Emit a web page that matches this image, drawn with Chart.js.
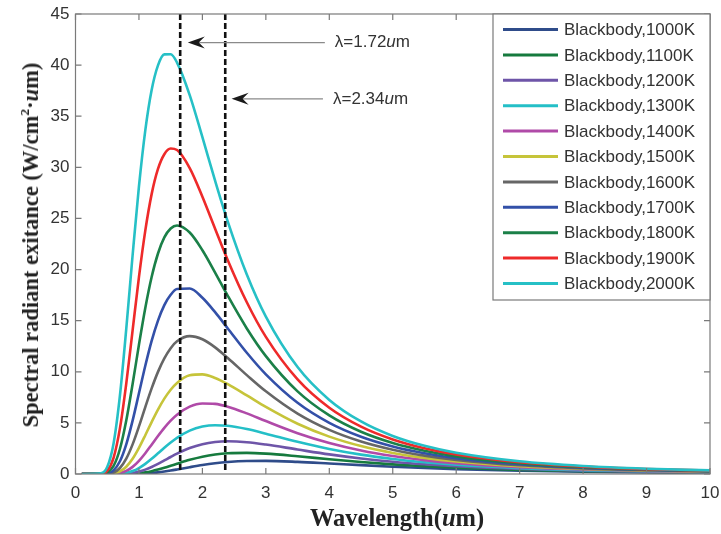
<!DOCTYPE html>
<html>
<head>
<meta charset="utf-8">
<script src="https://cdn.jsdelivr.net/npm/chart.js@4.4.0/dist/chart.umd.min.js"></script>
<style>
  html, body { margin: 0; padding: 0; background: #fff; }
  #wrap { position: relative; width: 721px; height: 534px; }
  #chart { position: absolute; left: 0; top: 0; }
  .axis-title {
    position: absolute;
    font-family: "Liberation Serif", "Times New Roman", serif;
    font-weight: bold;
    color: #222;
    white-space: nowrap;
    transform: translate(-50%, -50%);
  }
  #ytitle { transform: translate(-50%, -50%) rotate(-90deg); }
  .axis-title sup { font-size: 0.6em; vertical-align: 0.7em; line-height: 0; }
</style>
</head>
<body>
<div id="wrap">
  <canvas id="chart" width="721" height="534"></canvas>
  <div id="xtitle" class="axis-title" style="left:397px; top:518px; font-size:24.5px;">Wavelength(<i>u</i>m)</div>
  <div id="ytitle" class="axis-title" style="left:31px; top:245px; font-size:22.5px;">Spectral radiant exitance (W/cm<sup>2</sup>&middot;<i>u</i>m)</div>
</div>
<script>
// wavelength samples (um)
const wavelengths = [0.1, 0.4, 0.5, 0.6, 0.7, 0.8, 0.9, 1.0, 1.1, 1.2, 1.3, 1.4, 1.5, 1.6, 1.8, 2.0, 2.2, 2.4, 2.7, 3.0, 3.5, 4.0, 4.5, 5.0, 5.5, 6.0, 7.0, 8.0, 9.0, 10.0];

const seriesNames = ['Blackbody,1000K', 'Blackbody,1100K', 'Blackbody,1200K', 'Blackbody,1300K', 'Blackbody,1400K', 'Blackbody,1500K',
                     'Blackbody,1600K', 'Blackbody,1700K', 'Blackbody,1800K', 'Blackbody,1900K', 'Blackbody,2000K'];

// spectral radiant exitance (W/cm2.um)
const exitance1000 = [0, 0, 0, 0, 0, 0.002, 0.007, 0.021, 0.049, 0.093, 0.157, 0.240, 0.336, 0.444, 0.669, 0.879, 1.050, 1.174, 1.271, 1.283, 1.187, 1.030, 0.864, 0.714, 0.586, 0.481, 0.327, 0.227, 0.161, 0.116];
const exitance1100 = [0, 0, 0, 0, 0.002, 0.009, 0.031, 0.078, 0.159, 0.278, 0.430, 0.609, 0.805, 1.005, 1.384, 1.691, 1.906, 2.028, 2.069, 1.993, 1.738, 1.444, 1.173, 0.944, 0.760, 0.613, 0.406, 0.277, 0.193, 0.139];
const exitance1200 = [0, 0, 0, 0.001, 0.008, 0.035, 0.104, 0.232, 0.429, 0.689, 0.995, 1.328, 1.665, 1.987, 2.537, 2.920, 3.133, 3.201, 3.110, 2.882, 2.395, 1.920, 1.518, 1.197, 0.948, 0.755, 0.490, 0.329, 0.227, 0.162];
const exitance1300 = [0, 0, 0, 0.005, 0.030, 0.112, 0.289, 0.584, 0.991, 1.485, 2.023, 2.566, 3.079, 3.538, 4.239, 4.637, 4.775, 4.716, 4.398, 3.947, 3.149, 2.451, 1.895, 1.470, 1.147, 0.904, 0.577, 0.382, 0.262, 0.185];
const exitance1400 = [0, 0, 0.001, 0.018, 0.094, 0.301, 0.696, 1.288, 2.035, 2.870, 3.717, 4.515, 5.219, 5.803, 6.586, 6.900, 6.859, 6.582, 5.928, 5.177, 3.992, 3.031, 2.301, 1.758, 1.357, 1.059, 0.666, 0.437, 0.297, 0.209];
const exitance1500 = [0, 0, 0.006, 0.055, 0.249, 0.709, 1.490, 2.555, 3.794, 5.080, 6.297, 7.369, 8.245, 8.912, 9.650, 9.743, 9.398, 8.797, 7.692, 6.562, 4.914, 3.654, 2.730, 2.061, 1.575, 1.219, 0.758, 0.493, 0.333, 0.232];
const exitance1600 = [0, 0.001, 0.019, 0.149, 0.587, 1.499, 2.900, 4.653, 6.545, 8.374, 9.990, 11.31, 12.31, 12.98, 13.49, 13.18, 12.39, 11.35, 9.674, 8.089, 5.909, 4.314, 3.180, 2.376, 1.800, 1.384, 0.852, 0.550, 0.369, 0.257];
const exitance1700 = [0, 0.002, 0.053, 0.360, 1.249, 2.906, 5.221, 7.898, 10.59, 13.02, 15.01, 16.52, 17.53, 18.09, 18.14, 17.24, 15.83, 14.24, 11.86, 9.748, 6.968, 5.008, 3.648, 2.700, 2.032, 1.553, 0.947, 0.607, 0.406, 0.281];
const exitance1800 = [0, 0.008, 0.137, 0.788, 2.446, 5.228, 8.804, 12.64, 16.24, 19.27, 21.57, 23.14, 24.01, 24.31, 23.62, 21.89, 19.71, 17.43, 14.24, 11.53, 8.083, 5.731, 4.132, 3.034, 2.269, 1.725, 1.044, 0.665, 0.443, 0.306];
const exitance1900 = [0, 0.022, 0.317, 1.589, 4.461, 8.845, 14.05, 19.26, 23.81, 27.38, 29.84, 31.28, 31.84, 31.69, 29.93, 27.13, 24.00, 20.92, 16.80, 13.41, 9.249, 6.478, 4.629, 3.376, 2.510, 1.900, 1.142, 0.724, 0.480, 0.330];
const exitance2000 = [0, 0.057, 0.675, 2.986, 7.662, 14.20, 21.40, 28.13, 33.61, 37.56, 39.97, 41.05, 41.06, 40.25, 37.07, 32.95, 28.69, 24.69, 19.52, 15.40, 10.46, 7.25, 5.14, 3.72, 2.755, 2.077, 1.241, 0.783, 0.518, 0.355];

const seriesValues = [exitance1000, exitance1100, exitance1200, exitance1300, exitance1400, exitance1500,
                      exitance1600, exitance1700, exitance1800, exitance1900, exitance2000];

const seriesColors = ['#2f4c8a', '#167a3e', '#6e55a8', '#24bfc7', '#b04aa8', '#c6c43a',
                      '#666666', '#3350a8', '#1b8048', '#ee2a2a', '#26c0c6'];

// dashed marker lines (um) and their labels
const markerWavelengths = [1.65, 2.36];
const markerLabels = ['\u03bb=1.72', '\u03bb=2.34'];

const xTicks = [0, 1, 2, 3, 4, 5, 6, 7, 8, 9, 10];
const yTicks = [0, 5, 10, 15, 20, 25, 30, 35, 40, 45];

// arrow annotations, in data units
const arrows = [
    { tip: 1.77, tail: 3.93, y: 42.2 },
    { tip: 2.46, tail: 3.90, y: 36.7 }
];

const sansFont = '"Liberation Sans", Arial, sans-serif';

const datasets = seriesValues.map((vals, i) => ({
    label: seriesNames[i],
    data: vals.map((v, k) => ({ x: wavelengths[k], y: v })),
    borderColor: seriesColors[i],
    borderWidth: 2.6,
    pointRadius: 0,
    cubicInterpolationMode: 'monotone',
    fill: false,
    order: seriesValues.length - i,
    inLegend: true
}));

markerWavelengths.forEach(w => {
    datasets.push({
        label: '',
        data: [{ x: w, y: 0.4 }, { x: w, y: 45 }],
        borderColor: '#111',
        borderWidth: 2.6,
        borderDash: [6, 3],
        pointRadius: 0,
        order: 0,
        inLegend: false
    });
});

const boxAndTicks = {
    id: 'boxAndTicks',
    afterDraw(chart) {
        const { ctx, chartArea: a, scales: { x, y } } = chart;
        ctx.save();
        ctx.strokeStyle = '#7a7a7a';
        ctx.lineWidth = 1.2;
        ctx.strokeRect(a.left, a.top, a.right - a.left, a.bottom - a.top);
        ctx.beginPath();
        xTicks.forEach(t => {
            const px = x.getPixelForValue(t);
            ctx.moveTo(px, a.bottom); ctx.lineTo(px, a.bottom - 6);
            ctx.moveTo(px, a.top); ctx.lineTo(px, a.top + 6);
        });
        yTicks.forEach(t => {
            const py = y.getPixelForValue(t);
            ctx.moveTo(a.left, py); ctx.lineTo(a.left + 6, py);
            ctx.moveTo(a.right, py); ctx.lineTo(a.right - 6, py);
        });
        ctx.stroke();
        ctx.restore();
    }
};

const arrowNotes = {
    id: 'arrowNotes',
    afterDatasetsDraw(chart) {
        const { ctx, scales: { x, y } } = chart;
        ctx.save();
        arrows.forEach((ar, i) => {
            const py = y.getPixelForValue(ar.y);
            const tip = x.getPixelForValue(ar.tip);
            const tail = x.getPixelForValue(ar.tail);
            ctx.strokeStyle = '#8a8a8a';
            ctx.lineWidth = 1.3;
            ctx.beginPath();
            ctx.moveTo(tail, py);
            ctx.lineTo(tip + 8, py);
            ctx.stroke();
            ctx.fillStyle = '#1a1a1a';
            ctx.beginPath();
            ctx.moveTo(tip, py);
            ctx.lineTo(tip + 17, py - 6);
            ctx.lineTo(tip + 11, py);
            ctx.lineTo(tip + 17, py + 6);
            ctx.closePath();
            ctx.fill();

            ctx.fillStyle = '#333';
            ctx.textBaseline = 'middle';
            ctx.textAlign = 'left';
            let tx = tail + 10;
            ctx.font = '17px ' + sansFont;
            ctx.fillText(markerLabels[i], tx, py);
            tx += ctx.measureText(markerLabels[i]).width;
            ctx.font = 'italic 17px ' + sansFont;
            ctx.fillText('u', tx, py);
            tx += ctx.measureText('u').width;
            ctx.font = '17px ' + sansFont;
            ctx.fillText('m', tx, py);
        });
        ctx.restore();
    }
};

const boxLegend = {
    id: 'boxLegend',
    afterDraw(chart) {
        const { ctx, chartArea: a } = chart;
        const items = chart.data.datasets.filter(d => d.inLegend);
        const rowH = 25.4;
        const left = 493, top = a.top;
        const right = a.right;
        const bottom = top + 15.5 + rowH * (items.length - 1) + 16.5;
        ctx.save();
        ctx.fillStyle = '#fff';
        ctx.fillRect(left, top, right - left, bottom - top);
        ctx.strokeStyle = '#7a7a7a';
        ctx.lineWidth = 1.2;
        ctx.strokeRect(left, top, right - left, bottom - top);
        ctx.font = '17px ' + sansFont;
        ctx.textBaseline = 'middle';
        ctx.textAlign = 'left';
        items.forEach((d, i) => {
            const cy = top + 15.5 + i * rowH;
            ctx.strokeStyle = d.borderColor;
            ctx.lineWidth = 3;
            ctx.beginPath();
            ctx.moveTo(left + 10, cy);
            ctx.lineTo(left + 65, cy);
            ctx.stroke();
            ctx.fillStyle = '#333';
            ctx.fillText(d.label, left + 71, cy + 1);
        });
        ctx.restore();
    }
};

new Chart(document.getElementById('chart'), {
    type: 'line',
    data: { datasets },
    options: {
        responsive: false,
        animation: false,
        layout: { padding: { top: 14, right: 11, left: 0, bottom: 0 } },
        plugins: {
            legend: { display: false },
            tooltip: { enabled: false }
        },
        scales: {
            x: {
                type: 'linear',
                min: 0,
                max: 10,
                afterBuildTicks: s => { s.ticks = xTicks.map(v => ({ value: v })); },
                afterFit: s => { s.height = 60; s.paddingLeft = 0; s.paddingRight = 0; },
                grid: { display: false, drawTicks: false },
                border: { display: false },
                ticks: { color: '#333', padding: 9, font: { family: sansFont, size: 17 } }
            },
            y: {
                type: 'linear',
                min: 0,
                max: 45,
                afterBuildTicks: s => { s.ticks = yTicks.map(v => ({ value: v })); },
                afterFit: s => { s.width = 75.5; s.paddingTop = 0; s.paddingBottom = 0; },
                grid: { display: false, drawTicks: false },
                border: { display: false },
                ticks: { color: '#333', padding: 6, font: { family: sansFont, size: 17 } }
            }
        }
    },
    plugins: [boxAndTicks, arrowNotes, boxLegend]
});
</script>
</body>
</html>
